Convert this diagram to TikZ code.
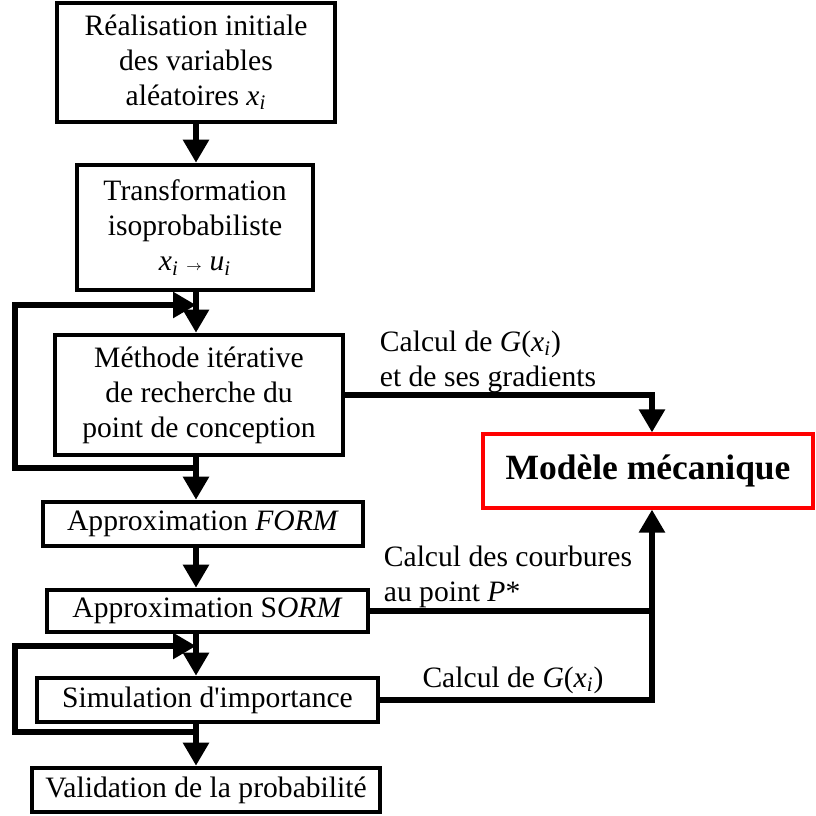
\documentclass[tikz,border=0pt]{standalone}
\usepackage{fontspec}
\setmainfont{Liberation Serif}
\usetikzlibrary{arrows.meta, positioning}

\newcommand{\vx}[1]{\textit{#1}\textsubscript{\textit{i}}}

\begin{document}
\begin{tikzpicture}[
        x=0.5pt, y=-0.5pt,
        font=\fontsize{14.8}{17.5}\selectfont,
        base/.style={draw, line width=2.3pt, align=center, inner sep=0pt},
        stage/.style={base, minimum height=22pt},
        model/.style={base, draw=red, line width=1.6pt, font=\fontsize{17.75}{20}\selectfont\bfseries},
        label/.style={align=left, inner sep=0pt},
        link/.style={line width=2.8pt},
        arrow/.style={link, -{Triangle[length=11.5pt, width=12.5pt]}}
    ]
    \useasboundingbox (0,0) rectangle (816,816);

    \coordinate (spine) at (196,0);
    \coordinate (feed) at (652,0);

    \node (init) at (196,62.5) [base, minimum width=139pt, minimum height=59.5pt] {R\'ealisation initiale\\des variables\\al\'eatoires \vx{x}};
    \node (iso) at (195,227.5) [base, minimum width=118pt, minimum height=62.5pt] {Transformation\\isoprobabiliste\\\vx{x} {\scriptsize$\rightarrow$} \vx{u}};
    \node (iter) at (199,395) [base, minimum width=144pt, minimum height=60pt] {M\'ethode it\'erative\\de recherche du\\point de conception};
    \node (form) at (203,524) [stage, minimum width=160pt] {Approximation \textit{FORM}};
    \node (sorm) at (207.5,611) [stage, minimum width=160.5pt, minimum height=21pt] {Approximation S\textit{ORM}};
    \node (simu) at (207.5,700) [stage, minimum width=170.5pt] {Simulation d\textquotesingle importance};
    \node (valid) at (206,790) [stage, minimum width=174pt] {Validation de la probabilit\'e};

    \node (meca) at (648,471) [model, minimum width=165pt, minimum height=37pt] {Mod\`ele m\'ecanique};

    \node (calc1) at (488,362) [label] {Calcul de \textit{G}(\vx{x})\\et de ses gradients};
    \node (calc2) at (508,577) [label] {Calcul des courbures\\au point \textit{P}*};
    \node (calc3) at (513,680) [label] {Calcul de \textit{G}(\vx{x})};

    % boucles de retour
    \coordinate (back1a) at (15,468);
    \coordinate (back1b) at (15,305);
    \coordinate (back2a) at (15,732);
    \coordinate (back2b) at (15,646);

    \draw [arrow] (init.south -| spine) -- (iso.north -| spine);
    \draw [arrow] (iso.south -| spine) -- (iter.north -| spine);
    \draw [arrow] (iter.south -| spine) -- (form.north -| spine);
    \draw [arrow] (form.south -| spine) -- (sorm.north -| spine);
    \draw [arrow] (sorm.south -| spine) -- (simu.north -| spine);
    \draw [arrow] (simu.south -| spine) -- (valid.north -| spine);

    \draw [arrow] (spine |- back1a) -- (back1a) -- (back1b) -- (spine |- back1b);
    \draw [arrow] (spine |- back2a) -- (back2a) -- (back2b) -- (spine |- back2b);

    \draw [arrow] (iter.east) -- (iter.east -| feed) -- (meca.north -| feed);
    \draw [link] (sorm.east) -- (sorm.east -| feed);
    \draw [arrow] (simu.east) -- (simu.east -| feed) -- (meca.south -| feed);

\end{tikzpicture}
\end{document}
